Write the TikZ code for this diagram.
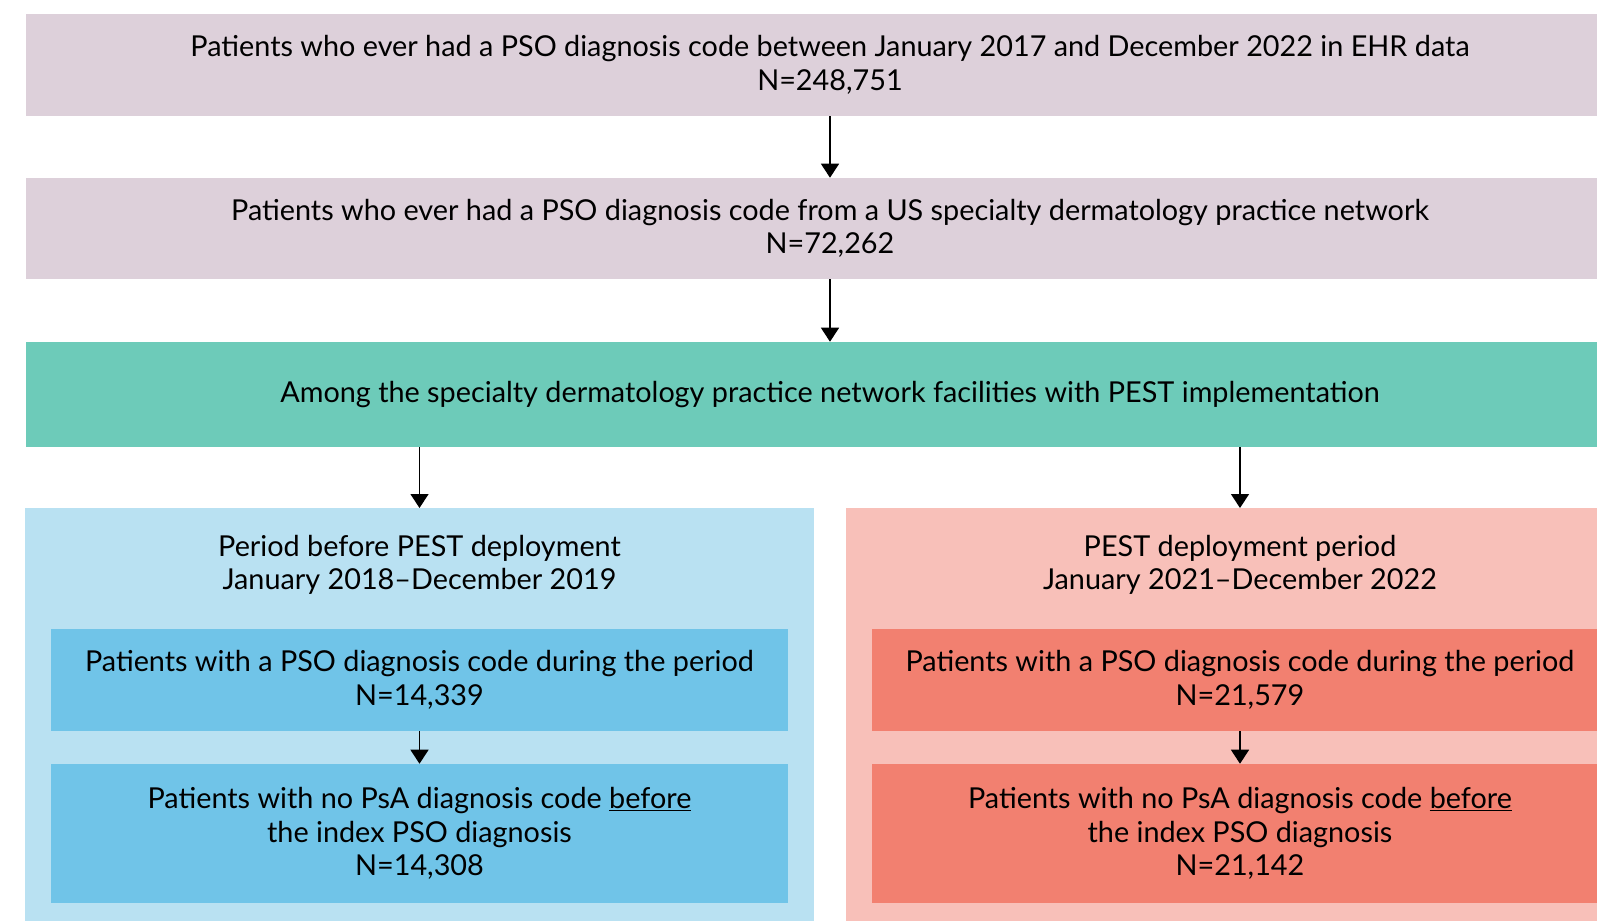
\documentclass[tikz,border=0pt]{standalone}
\usepackage{fontspec}
\setmainfont{Lato}
\usetikzlibrary{arrows.meta}
\definecolor{mauve}{HTML}{DDD0DA}
\definecolor{teal}{HTML}{6DCBB9}
\definecolor{blueL}{HTML}{B9E1F2}
\definecolor{blueD}{HTML}{70C4E8}
\definecolor{pinkL}{HTML}{F8C0B9}
\definecolor{pinkD}{HTML}{F28070}

\begin{document}
\begin{tikzpicture}[x=0.75pt,y=-0.75pt,
  box/.style={inner sep=0pt, align=center, font=\fontsize{21.6}{25.2}\selectfont},
  arr/.style={line width=1pt, -{Triangle[width=13.5pt,length=10.5pt]}}]
\useasboundingbox (0,0) rectangle (1597,921);
\clip (0,0) rectangle (1597,921);
\node[box, fill=mauve, minimum width=1206pt, minimum height=76.5pt] (ever) at (830,65){Patients who ever had a PSO diagnosis code between January 2017 and December 2022 in EHR data\\N=248,751};
\node[box, fill=mauve, minimum width=1206pt, minimum height=75.75pt] (derm) at (830,228.5){Patients who ever had a PSO diagnosis code from a US specialty dermatology practice network\\N=72,262};
\node[box, fill=teal, minimum width=1206pt, minimum height=78.75pt] (pest) at (830,394.5){Among the specialty dermatology practice network facilities with PEST implementation};
\draw[arr](ever) -- (derm);
\draw[arr](derm) -- (pest);

\node[box, fill=blueL, minimum width=591.75pt, minimum height=330pt, anchor=north] (pre) at (419.5,508){};
\node[box] (prehead) at (419.5,565){Period before PEST deployment\\January 2018--December 2019};
\node[box, fill=blueD, minimum width=552.75pt, minimum height=76.5pt] (pre1) at (419.5,680){Patients with a PSO diagnosis code during the period\\N=14,339};
\node[box, fill=blueD, minimum width=552.75pt, minimum height=104.25pt] (pre2) at (419.5,833.5){Patients with no PsA diagnosis code \underline{before}\\the index PSO diagnosis\\N=14,308};
\draw[arr](pest.south -| pre.north) -- (pre.north);
\draw[arr](pre1) -- (pre2);

\node[box, fill=pinkL, minimum width=591pt, minimum height=330pt, anchor=north] (post) at (1240,508){};
\node[box] (posthead) at (1240,565){PEST deployment period\\January 2021--December 2022};
\node[box, fill=pinkD, minimum width=552pt, minimum height=76.5pt] (post1) at (1240,680){Patients with a PSO diagnosis code during the period\\N=21,579};
\node[box, fill=pinkD, minimum width=552pt, minimum height=104.25pt] (post2) at (1240,833.5){Patients with no PsA diagnosis code \underline{before}\\the index PSO diagnosis\\N=21,142};
\draw[arr](pest.south -| post.north) -- (post.north);
\draw[arr](post1) -- (post2);

\end{tikzpicture}
\end{document}
